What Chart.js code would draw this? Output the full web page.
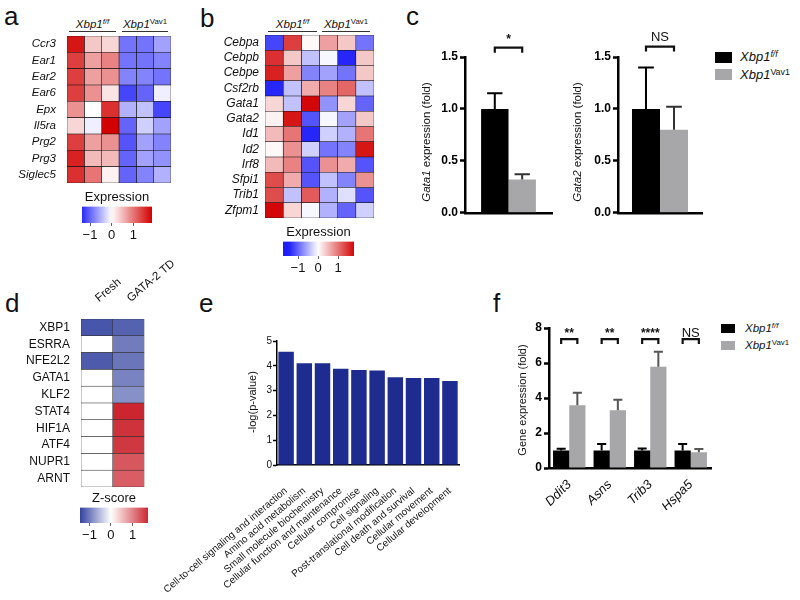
<!DOCTYPE html>
<html>
<head>
<meta charset="utf-8">
<title>Xbp1 figure</title>
<script src="https://cdn.jsdelivr.net/npm/chart.js@4.4.1/dist/chart.umd.min.js"></script>
<style>
  body { margin: 0; background: #fff; }
  #fig { position: relative; width: 800px; height: 600px; overflow: hidden; font-family: "Liberation Sans", Arial, sans-serif; color: #111; }
  #fig canvas { position: absolute; }
  .txt { position: absolute; white-space: nowrap; line-height: 1; }
  .letter { font-size: 26px; }
  .hdr { position: absolute; font-size: 11.5px; line-height: 14px; height: 14px; text-align: center; border-bottom: 1px solid #333; white-space: nowrap; }
  .sup { font-size: 0.68em; position: relative; top: -0.5em; }
  .rot { position: absolute; transform: translate(-50%, -50%) rotate(-90deg); white-space: nowrap; line-height: 1; filter: grayscale(1); }
  .key { position: absolute; }
</style>
</head>
<body>
<div id="fig">
  <div class="txt letter" style="left:4px;top:3px">a</div>
  <div class="txt letter" style="left:200px;top:5px">b</div>
  <div class="txt letter" style="left:406px;top:3px">c</div>
  <div class="txt letter" style="left:5px;top:290px">d</div>
  <div class="txt letter" style="left:199px;top:290px">e</div>
  <div class="txt letter" style="left:493px;top:290px">f</div>

  <div class="hdr" style="left:69px;top:17px;width:47px"><i>Xbp1</i><span class="sup"><i>f/f</i></span></div>
  <div class="hdr" style="left:122px;top:17px;width:46px"><i>Xbp1</i><span class="sup">Vav1</span></div>
  <div class="hdr" style="left:268px;top:17px;width:49px"><i>Xbp1</i><span class="sup"><i>f/f</i></span></div>
  <div class="hdr" style="left:322px;top:17px;width:48px"><i>Xbp1</i><span class="sup">Vav1</span></div>

  <div class="rot" style="left:427px;top:142px;font-size:11.5px"><i>Gata1</i> expression (fold)</div>
  <div class="rot" style="left:578px;top:142px;font-size:11.5px"><i>Gata2</i> expression (fold)</div>
  <div class="rot" style="left:252px;top:402px;font-size:11px">-log(p-value)</div>
  <div class="rot" style="left:522px;top:400px;font-size:11px">Gene expression (fold)</div>

  <div class="key" style="left:715px;top:52px;width:17px;height:11px;background:#000"></div>
  <div class="key" style="left:715px;top:69px;width:17px;height:11px;background:#a7a7a9"></div>
  <div class="txt" style="left:740px;top:50px;font-size:13px"><i>Xbp1</i><span class="sup"><i>f/f</i></span></div>
  <div class="txt" style="left:740px;top:68px;font-size:13px"><i>Xbp1</i><span class="sup">Vav1</span></div>

  <div class="key" style="left:721px;top:324px;width:14px;height:9px;background:#000"></div>
  <div class="key" style="left:721px;top:341px;width:14px;height:9px;background:#a7a7a9"></div>
  <div class="txt" style="left:745px;top:323px;font-size:11.5px"><i>Xbp1</i><span class="sup"><i>f/f</i></span></div>
  <div class="txt" style="left:745px;top:340px;font-size:11.5px"><i>Xbp1</i><span class="sup">Vav1</span></div>

  <canvas id="heatA" width="175" height="189" style="left:0;top:15px"></canvas>
  <canvas id="barA" width="90" height="58" style="left:72px;top:185px"></canvas>
  <canvas id="heatB" width="191" height="225" style="left:185px;top:14px"></canvas>
  <canvas id="barB" width="91" height="56" style="left:273px;top:220px"></canvas>
  <canvas id="gata1" width="125" height="192" style="left:435px;top:30px"></canvas>
  <canvas id="gata2" width="122" height="192" style="left:588px;top:30px"></canvas>
  <canvas id="pathE" width="360" height="270" style="left:110px;top:330px"></canvas>
  <canvas id="heatD" width="190" height="248" style="left:0;top:259px"></canvas>
  <canvas id="barD" width="88" height="57" style="left:70px;top:486px"></canvas>
  <canvas id="genesF" width="202" height="195" style="left:515px;top:315px"></canvas>
</div>
<script>
// a: eosinophil genes, 3 Xbp1 f/f + 3 Xbp1 Vav1 samples
const genesA = ['Ccr3', 'Ear1', 'Ear2', 'Ear6', 'Epx', 'Il5ra', 'Prg2', 'Prg3', 'Siglec5'];
const heatA = [
  [1.7, 0.4, 0.3, -0.9, -0.9, -0.6],
  [1.4, 0.7, 0.9, -0.9, -0.9, -0.8],
  [1.4, 0.7, 0.8, -0.8, -0.8, -0.9],
  [1.4, 0.8, 0.2, -1.2, -1.0, -0.1],
  [0.8, 0.0, 1.5, -0.5, -0.4, -1.2],
  [0.3, -0.1, 1.85, -1.0, -0.3, -0.6],
  [1.4, 0.7, 0.8, -1.1, -0.6, -0.8],
  [1.6, 0.5, 0.5, -1.0, -0.6, -0.7],
  [1.5, 1.0, 0.1, -1.0, -0.8, -0.5],
];

// b: transcription factors
const genesB = ['Cebpa', 'Cebpb', 'Cebpe', 'Csf2rb', 'Gata1', 'Gata2', 'Id1', 'Id2', 'Irf8', 'Sfpi1', 'Trib1', 'Zfpm1'];
const heatB = [
  [-1.2, 1.4, 0.05, 0.7, 0.4, -0.9],
  [1.5, 0.4, -0.4, -0.05, -1.4, 0.4],
  [1.6, 0.7, -0.8, -0.6, -0.9, 0.4],
  [-1.4, -0.4, 0.6, 0.9, 1.1, -0.4],
  [0.3, -0.4, 1.8, -0.7, 0.3, -1.0],
  [0.1, 1.7, -1.1, -0.05, -0.6, 0.4],
  [0.5, 1.0, -1.4, -0.3, -0.5, 1.0],
  [0.05, 0.8, -0.3, -0.9, -0.8, 1.7],
  [0.5, 0.9, -1.1, 0.8, 0.6, -1.1],
  [1.3, 0.6, -1.1, -0.4, -0.8, 0.8],
  [1.3, -0.4, 1.2, -0.5, -0.2, -1.1],
  [1.8, 0.3, -0.05, -0.5, -1.0, -0.3],
];

// c: qPCR, mean and SEM
const gata1Mean = [1.0, 0.32];
const gata1Sem = [0.15, 0.05];
const gata2Mean = [1.0, 0.80];
const gata2Sem = [0.40, 0.22];

// d: upstream regulators, z-scores
const regulatorsD = ['XBP1', 'ESRRA', 'NFE2L2', 'GATA1', 'KLF2', 'STAT4', 'HIF1A', 'ATF4', 'NUPR1', 'ARNT'];
const samplesD = ['Fresh', 'GATA-2 TD'];
const zD = [
  [-1.3, -1.2], [0, -1.0], [-1.25, -1.05], [0, -0.95], [0, -0.85],
  [0, 1.75], [0, 1.65], [0, 1.6], [0, 1.35], [0, 1.3],
];

// e: pathways
const pathways = ['Cell-to-cell signaling and interaction', 'Amino acid metabolism', 'Small molecule biochemistry',
  'Cellular function and maintenance', 'Cellular compromise', 'Cell signaling', 'Post-translational modification',
  'Cell death and survival', 'Cellular movement', 'Cellular development'];
const logP = [4.57, 4.10, 4.10, 3.88, 3.83, 3.81, 3.54, 3.51, 3.51, 3.39];

// f: UPR genes
const genesF = ['Ddit3', 'Asns', 'Trib3', 'Hspa5'];
const floxF = [1.0, 1.0, 1.0, 1.0];
const floxSemF = [0.10, 0.37, 0.12, 0.37];
const vavF = [3.58, 3.30, 5.79, 0.90];
const vavSemF = [0.72, 0.60, 0.85, 0.19];
const sigF = ['**', '**', '****', 'NS'];

const colorTicks = [-1, 0, 1];

const FONT = '"Liberation Sans", Arial, sans-serif';
Chart.defaults.font.family = FONT;
Chart.defaults.color = '#111';
Chart.defaults.animation = false;
Chart.defaults.plugins.legend.display = false;
Chart.defaults.plugins.tooltip.enabled = false;

const WHITE = [255, 255, 255];
function lerp(a, b, t) {
  return a.map((v, i) => Math.round(v + (b[i] - v) * t));
}
function makeScale(blue, red, negMax, posMax) {
  return v => {
    const c = v < 0 ? lerp(WHITE, blue, Math.min(1, -v / negMax)) : lerp(WHITE, red, Math.min(1, v / posMax));
    return `rgb(${c[0]},${c[1]},${c[2]})`;
  };
}
const exprColor = makeScale([30, 30, 248], [210, 0, 0], 1.45, 1.85);
const zColor = makeScale([50, 65, 160], [200, 25, 35], 1.45, 1.85);

const errorBars = {
  id: 'errorBars',
  afterDatasetsDraw(chart) {
    const { ctx } = chart;
    const y = chart.scales.y;
    chart.data.datasets.forEach((ds, i) => {
      if (!ds.errors) return;
      chart.getDatasetMeta(i).data.forEach((bar, j) => {
        const top = y.getPixelForValue(ds.data[j] + ds.errors[j]);
        const half = bar.width * 0.28;
        ctx.save();
        ctx.strokeStyle = ds.errColor;
        ctx.lineWidth = 2;
        ctx.beginPath();
        ctx.moveTo(bar.x, bar.y);
        ctx.lineTo(bar.x, top);
        ctx.moveTo(bar.x - half, top);
        ctx.lineTo(bar.x + half, top);
        ctx.stroke();
        ctx.restore();
      });
    });
  }
};

const brackets = {
  id: 'brackets',
  afterDatasetsDraw(chart, args, opts) {
    if (!opts.items) return;
    const { ctx } = chart;
    const y = chart.scales.y;
    const m0 = chart.getDatasetMeta(0), m1 = chart.getDatasetMeta(1);
    opts.items.forEach(it => {
      const x0 = m0.data[it.cat].x, x1 = m1.data[it.cat].x;
      const yt = y.getPixelForValue(it.top);
      ctx.save();
      ctx.strokeStyle = '#111';
      ctx.lineWidth = 2.2;
      ctx.beginPath();
      ctx.moveTo(x0, yt + opts.leg);
      ctx.lineTo(x0, yt);
      ctx.lineTo(x1, yt);
      ctx.lineTo(x1, yt + opts.leg);
      ctx.stroke();
      ctx.fillStyle = '#111';
      ctx.textAlign = 'center';
      ctx.textBaseline = 'alphabetic';
      ctx.font = it.label.includes('*') ? 'bold 12px ' + FONT : '13px ' + FONT;
      ctx.fillText(it.label, (x0 + x1) / 2, yt - opts.gap);
      ctx.restore();
    });
  }
};
Chart.register(errorBars, brackets);

function heatmap(id, rows, cols, matrix, colorFn, o) {
  const datasets = cols.map((c, ci) => ({
    data: rows.map(() => 1),
    backgroundColor: matrix.map(r => colorFn(r[ci])),
    borderColor: o.border,
    borderWidth: 0.6,
    borderSkipped: false,
    barPercentage: 1,
    categoryPercentage: 1,
  }));
  const x = { stacked: true, min: 0, max: cols.length, display: false };
  if (o.topLabels) {
    Object.assign(x, {
      display: true, position: 'top',
      grid: { display: false }, border: { display: false },
      ticks: { minRotation: 40, maxRotation: 40, padding: 6, labelOffset: 9, color: '#111', font: { size: 11.5 },
        callback: (v, i) => cols[i] },
      afterBuildTicks: s => { s.ticks = cols.map((c, i) => ({ value: i + 0.5 })); },
      afterFit: s => { s.height = o.topHeight; },
    });
  }
  return new Chart(document.getElementById(id), {
    type: 'bar',
    data: { labels: rows, datasets },
    options: {
      indexAxis: 'y',
      responsive: false,
      layout: { padding: o.padding },
      scales: {
        x,
        y: {
          stacked: true,
          grid: { display: false, drawTicks: false },
          border: { display: false },
          ticks: { autoSkip: false, padding: o.tickPad, color: '#111', font: { size: o.size, style: o.style } },
          afterFit: s => { s.width = o.axisW; },
        },
      },
    },
  });
}

function colorbar(id, lo, hi, colorFn, title) {
  return new Chart(document.getElementById(id), {
    type: 'bar',
    data: {
      labels: [''],
      datasets: [{
        data: [[lo, hi]],
        barPercentage: 1,
        categoryPercentage: 1,
        borderWidth: 0,
        backgroundColor: ctx => {
          const area = ctx.chart.chartArea;
          if (!area) return '#fff';
          const g = ctx.chart.ctx.createLinearGradient(area.left, 0, area.right, 0);
          for (let k = 0; k <= 20; k++) g.addColorStop(k / 20, colorFn(lo + (hi - lo) * k / 20));
          return g;
        },
      }],
    },
    options: {
      indexAxis: 'y',
      responsive: false,
      layout: { padding: { left: 10, right: 10, top: 5, bottom: 0 } },
      plugins: {
        title: { display: true, text: title, color: '#111', font: { size: 13, weight: 'normal' }, padding: { top: 0, bottom: 1 } },
      },
      scales: {
        y: { display: false },
        x: {
          min: lo, max: hi,
          grid: { drawOnChartArea: false, tickLength: 3, tickColor: '#666' },
          border: { display: false },
          ticks: { padding: 2, color: '#111', font: { size: 13 }, callback: v => (v < 0 ? '\u2212' + (-v) : String(v)) },
          afterBuildTicks: s => { s.ticks = colorTicks.map(v => ({ value: v })); },
          afterFit: s => { s.height = 20; },
        },
      },
    },
  });
}

function groupedBars(id, labels, sets, o) {
  return new Chart(document.getElementById(id), {
    type: 'bar',
    data: {
      labels,
      datasets: sets.map(s => ({
        data: s.data, errors: s.errors, errColor: s.errColor,
        backgroundColor: s.color, borderWidth: 0,
        barPercentage: 1, categoryPercentage: o.catPct,
      })),
    },
    options: {
      responsive: false,
      layout: { padding: o.padding },
      plugins: { brackets: o.brackets },
      scales: {
        x: {
          grid: { display: false },
          border: { color: '#000', width: 2.5 },
          ticks: o.xTicks || { display: false },
          afterFit: s => { s.height = o.xHeight; },
        },
        y: {
          min: 0, max: o.max,
          grid: { drawOnChartArea: false, tickLength: 5, tickColor: '#000', tickWidth: 2.5 },
          border: { color: '#000', width: 2.5 },
          ticks: { stepSize: o.step, padding: 2, color: '#000', font: { size: 12, weight: 'bold' }, callback: o.fmt },
          afterFit: s => { s.width = o.yWidth; },
        },
      },
    },
  });
}

// a (label overhang needs ~20px room above and below the cells)
heatmap('heatA', genesA, [0, 1, 2, 3, 4, 5], heatA, exprColor,
  { border: '#111', padding: { top: 21, bottom: 21, right: 4, left: 0 }, axisW: 67, tickPad: 11, size: 11.5, style: 'italic' });
colorbar('barA', -1.37, 1.86, exprColor, 'Expression');

// b
heatmap('heatB', genesB, [0, 1, 2, 3, 4, 5], heatB, exprColor,
  { border: '#111', padding: { top: 21, bottom: 21, right: 2, left: 0 }, axisW: 80, tickPad: 6, size: 12, style: 'italic' });
colorbar('barB', -1.75, 1.8, exprColor, 'Expression');

// c
const fmt1 = v => v.toFixed(1);
groupedBars('gata1', [''], [
  { data: gata1Mean.slice(0, 1), errors: gata1Sem.slice(0, 1), color: '#000', errColor: '#000' },
  { data: gata1Mean.slice(1), errors: gata1Sem.slice(1), color: '#a7a7a9', errColor: '#333' },
], { catPct: 0.63, max: 1.5, step: 0.5, fmt: fmt1, yWidth: 30, xHeight: 2,
  padding: { top: 27, right: 8, bottom: 3, left: 0 },
  brackets: { items: [{ cat: 0, top: 1.59, label: '*' }], leg: 5, gap: 5 } });
groupedBars('gata2', [''], [
  { data: gata2Mean.slice(0, 1), errors: gata2Sem.slice(0, 1), color: '#000', errColor: '#000' },
  { data: gata2Mean.slice(1), errors: gata2Sem.slice(1), color: '#a7a7a9', errColor: '#333' },
], { catPct: 0.667, max: 1.5, step: 0.5, fmt: fmt1, yWidth: 30, xHeight: 2,
  padding: { top: 27, right: 8, bottom: 3, left: 0 },
  brackets: { items: [{ cat: 0, top: 1.6, label: 'NS' }], leg: 5, gap: 6 } });

// d
heatmap('heatD', regulatorsD, samplesD, zD, zColor,
  { border: '#333', padding: { top: 0, bottom: 20, right: 43, left: 0 }, axisW: 81, tickPad: 11, size: 12, style: 'normal',
    topLabels: true, topHeight: 60 });
colorbar('barD', -1.44, 1.72, zColor, 'Z-score');

// e
new Chart(document.getElementById('pathE'), {
  type: 'bar',
  data: {
    labels: pathways,
    datasets: [{ data: logP, backgroundColor: '#1e2b8f', borderWidth: 0, barPercentage: 0.85, categoryPercentage: 1 }],
  },
  options: {
    responsive: false,
    layout: { padding: { top: 11, right: 7, bottom: 0, left: 0 } },
    scales: {
      x: {
        grid: { display: false },
        border: { color: '#000', width: 1.5 },
        ticks: { autoSkip: false, minRotation: 40, maxRotation: 40, padding: 12, color: '#111', font: { size: 10 } },
        afterFit: s => { s.height = 135; },
      },
      y: {
        min: 0, max: 5,
        grid: { drawOnChartArea: false, tickLength: 4, tickColor: '#000', tickWidth: 1.5 },
        border: { color: '#000', width: 1.5 },
        ticks: { stepSize: 1, padding: 1, color: '#111', font: { size: 10 } },
        afterFit: s => { s.width = 167; },
      },
    },
  },
});

// f
groupedBars('genesF', genesF, [
  { data: floxF, errors: floxSemF, color: '#000', errColor: '#000' },
  { data: vavF, errors: vavSemF, color: '#a7a7a9', errColor: '#555' },
], { catPct: 0.8, max: 8, step: 2, fmt: v => String(v), yWidth: 34, xHeight: 42,
  padding: { top: 13, right: 6, bottom: 0, left: 0 },
  xTicks: { minRotation: 45, maxRotation: 45, padding: 1, color: '#111', font: { size: 13, style: 'italic' } },
  brackets: { items: genesF.map((g, i) => ({ cat: i, top: 7.37, label: sigF[i] })), leg: 5, gap: 2 } });
</script>
</body>
</html>
